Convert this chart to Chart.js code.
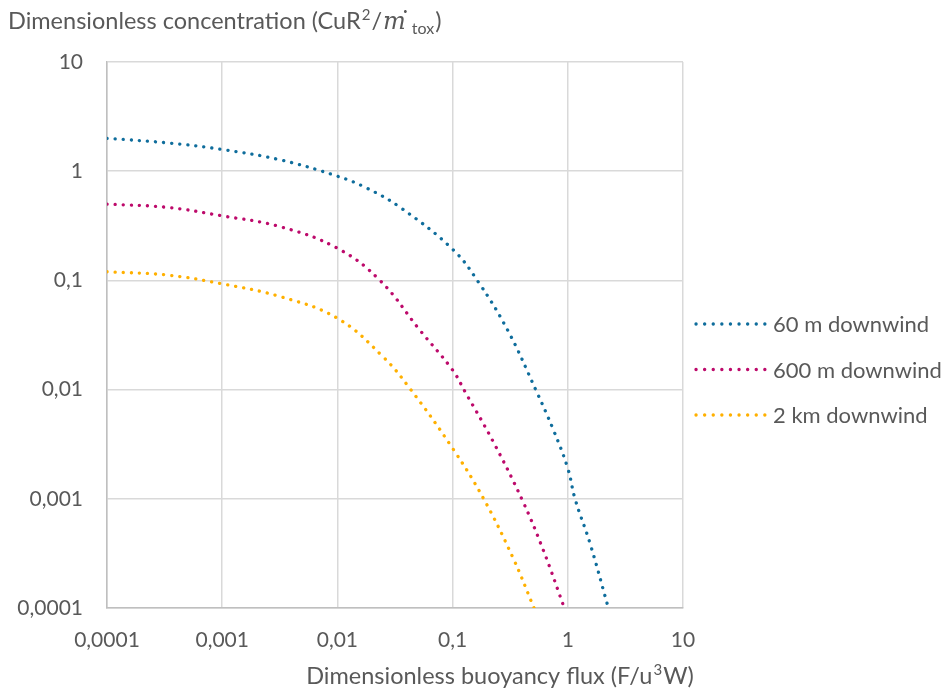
<!DOCTYPE html>
<html>
<head>
<meta charset="utf-8">
<script src="https://cdn.jsdelivr.net/npm/chart.js@4.4.0/dist/chart.umd.min.js"></script>
<style>
  html, body { margin: 0; padding: 0; background: #fff; }
  #wrap { width: 944px; height: 689px; position: relative; }
</style>
</head>
<body>
<div id="wrap"><canvas id="chart"></canvas></div>
<script>
  // Axis ticks (decades)
  const xTicks = [0.0001, 0.001, 0.01, 0.1, 1, 10];
  const yTicks = [0.0001, 0.001, 0.01, 0.1, 1, 10];

  // 60 m downwind
  const x60m = [0.0001, 0.00033, 0.001, 0.0032, 0.01, 0.018, 0.035, 0.1, 0.167, 0.305, 0.526, 0.748, 1, 1.155, 1.56, 2.25];
  const y60m = [2.0, 1.82, 1.58, 1.27, 0.90, 0.70, 0.467, 0.193, 0.097, 0.034, 0.01, 0.0043, 0.0019, 0.001, 0.00039, 0.0001];

  // 600 m downwind
  const x600m = [0.0001, 0.00033, 0.001, 0.0032, 0.01, 0.0234, 0.052, 0.1, 0.128, 0.225, 0.405, 0.612, 0.933];
  const y600m = [0.5, 0.467, 0.39, 0.31, 0.197, 0.1, 0.035, 0.0151, 0.0096, 0.00334, 0.00096, 0.00034, 0.0001];

  // 2 km downwind
  const x2km = [0.0001, 0.00033, 0.001, 0.0032, 0.01, 0.0251, 0.0433, 0.1, 0.186, 0.336, 0.509];
  const y2km = [0.12, 0.112, 0.093, 0.071, 0.045, 0.0198, 0.01, 0.0029, 0.001, 0.000285, 0.0001];

  const seriesNames = ['60 m downwind', '600 m downwind', '2 km downwind'];
  const seriesColors = ['#0f6d9c', '#bd0a6b', '#ffb000'];

  const FONT = 'Lato, "Open Sans", sans-serif';
  const TEXT = '#595959';

  function toPoints(xs, ys) {
    return xs.map((x, i) => ({ x: x, y: ys[i] }));
  }

  function fmt(v) {
    return String(v).replace('.', ',');
  }

  function makeDataset(label, xs, ys, color) {
    return {
      label: label,
      data: toPoints(xs, ys),
      borderColor: color,
      backgroundColor: color,
      borderWidth: 3.3,
      borderDash: [0.1, 8],
      borderCapStyle: 'round',
      pointRadius: 0,
      tension: 0.4,
      fill: false
    };
  }

  // titles + legend drawn by hand so the layout matches
  const decorPlugin = {
    id: 'decor',
    afterDraw(chart) {
      const ctx = chart.ctx;
      ctx.save();
      ctx.fillStyle = TEXT;
      ctx.textBaseline = 'alphabetic';
      ctx.textAlign = 'left';

      // y axis title across the top
      let x = 8;
      let base = 29;
      ctx.font = '23.5px ' + FONT;
      let s = 'Dimensionless concentration (CuR';
      ctx.fillText(s, x, base); x += ctx.measureText(s).width;
      ctx.font = '15px ' + FONT;
      ctx.fillText('2', x + 1, base - 9); x += ctx.measureText('2').width + 2;
      ctx.font = '23.5px ' + FONT;
      ctx.fillText('/', x, base); x += ctx.measureText('/').width + 1;
      ctx.font = 'italic 24px "DejaVu Serif", serif';
      ctx.fillText('m', x, base);
      const mw = ctx.measureText('m').width;
      ctx.font = 'bold 18px ' + FONT;
      ctx.fillText('˙', x + mw - 4, base - 5);
      x += mw + 6;
      ctx.font = '16px ' + FONT;
      ctx.fillText('tox', x, base + 5); x += ctx.measureText('tox').width;
      ctx.font = '23.5px ' + FONT;
      ctx.fillText(')', x + 1, base);

      // x axis title, with a real superscript 3
      ctx.font = '23.5px ' + FONT;
      const a = 'Dimensionless buoyancy flux (F/u';
      const b = 'W)';
      const wa = ctx.measureText(a).width;
      const wb = ctx.measureText(b).width;
      ctx.font = '15px ' + FONT;
      const w3 = ctx.measureText('3').width + 2;
      x = 500 - (wa + w3 + wb) / 2;
      base = 684;
      ctx.font = '23.5px ' + FONT;
      ctx.fillText(a, x, base);
      ctx.font = '15px ' + FONT;
      ctx.fillText('3', x + wa + 1, base - 9);
      ctx.font = '23.5px ' + FONT;
      ctx.fillText(b, x + wa + w3, base);

      // legend
      ctx.textBaseline = 'middle';
      ctx.font = '22px ' + FONT;
      chart.data.datasets.forEach((ds, i) => {
        const ly = 324 + i * 45.5;
        ctx.beginPath();
        ctx.strokeStyle = ds.borderColor;
        ctx.lineWidth = 3.3;
        ctx.lineCap = 'round';
        ctx.setLineDash([0.1, 8.5]);
        ctx.moveTo(696, ly);
        ctx.lineTo(765, ly);
        ctx.stroke();
        ctx.setLineDash([]);
        ctx.fillStyle = TEXT;
        ctx.fillText(ds.label, 773, ly + 1);
      });
      ctx.restore();
    }
  };

  window.addEventListener('DOMContentLoaded', () => {
    const ctx = document.getElementById('chart').getContext('2d');
    new Chart(ctx, {
      type: 'line',
      data: {
        datasets: [
          makeDataset(seriesNames[0], x60m, y60m, seriesColors[0]),
          makeDataset(seriesNames[1], x600m, y600m, seriesColors[1]),
          makeDataset(seriesNames[2], x2km, y2km, seriesColors[2])
        ]
      },
      options: {
        responsive: true,
        maintainAspectRatio: false,
        animation: false,
        layout: { padding: { left: 0, top: 62, right: 261, bottom: 0 } },
        plugins: {
          legend: { display: false },
          tooltip: { enabled: false }
        },
        scales: {
          x: {
            type: 'logarithmic',
            min: 0.0001,
            max: 10,
            afterBuildTicks: (scale) => { scale.ticks = xTicks.map(v => ({ value: v })); },
            afterFit: (scale) => { scale.height = 81; },
            border: { color: '#bfbfbf', width: 1.5 },
            grid: { color: '#d9d9d9', lineWidth: 1.5, drawTicks: false },
            ticks: {
              padding: 20,
              color: TEXT,
              font: { family: FONT, size: 21 },
              maxRotation: 0,
              autoSkip: false,
              callback: (v) => fmt(v)
            }
          },
          y: {
            type: 'logarithmic',
            min: 0.0001,
            max: 10,
            afterBuildTicks: (scale) => { scale.ticks = yTicks.map(v => ({ value: v })); },
            afterFit: (scale) => { scale.width = 107; },
            border: { color: '#bfbfbf', width: 1.5 },
            grid: { color: '#d9d9d9', lineWidth: 1.5, drawTicks: false },
            ticks: {
              padding: 24,
              color: TEXT,
              font: { family: FONT, size: 21 },
              autoSkip: false,
              callback: (v) => fmt(v)
            }
          }
        }
      },
      plugins: [decorPlugin]
    });
  });
</script>
</body>
</html>
